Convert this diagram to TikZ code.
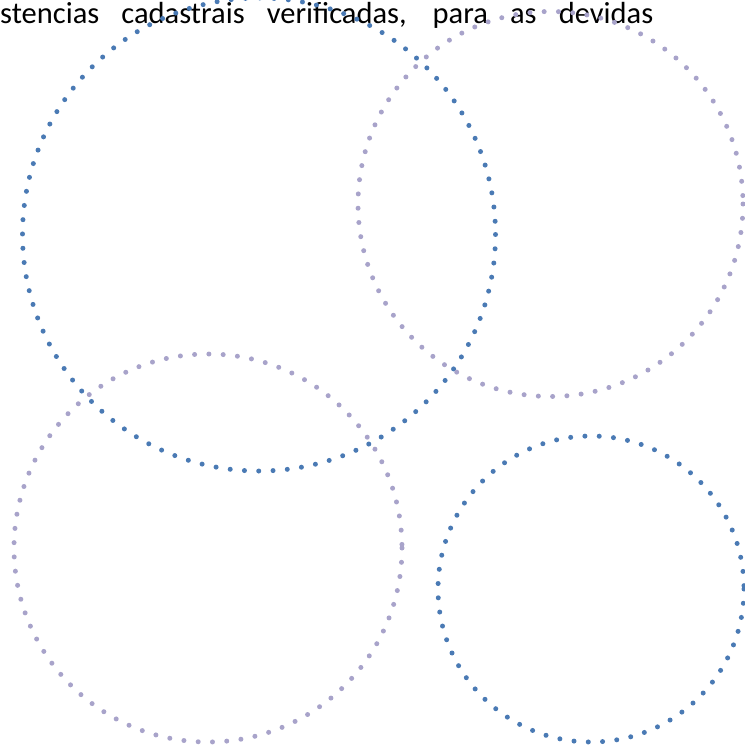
\documentclass[tikz,border=0pt]{standalone}
\usepackage{fontspec}
\setmainfont{Carlito}
\usepackage{tikz, xcolor}

\begin{document}
\begin{tikzpicture}[x=1pt, y=-1pt]
	\definecolor{ringblue}{HTML}{4A7AB4}
	\definecolor{ringlilac}{HTML}{A8A3CA}
	\tikzset{dotring/.style = {line width=5pt, line cap=round, dash pattern=on 0pt off 14.3pt}}
	\useasboundingbox (0,0) rectangle (744,746);
	% texto cortado no topo
	\node (linha) [anchor=base west, inner sep=0pt, text width=653pt, align=justify, font=\fontsize{30.5}{36}\selectfont] at (0,23.5)
		{\parfillskip=0pt stencias cadastrais verificadas, para as devidas\par};
	% circulos pontilhados
	\draw[dotring, ringblue]   (259,234.5) circle (236.5);
	\draw[dotring, ringlilac]  (550.5,204) circle (192.5);
	\draw[dotring, ringlilac]  (208,548) circle (194);
	\draw[dotring, ringblue]   (591,589) circle (153);
\end{tikzpicture}
\end{document}
